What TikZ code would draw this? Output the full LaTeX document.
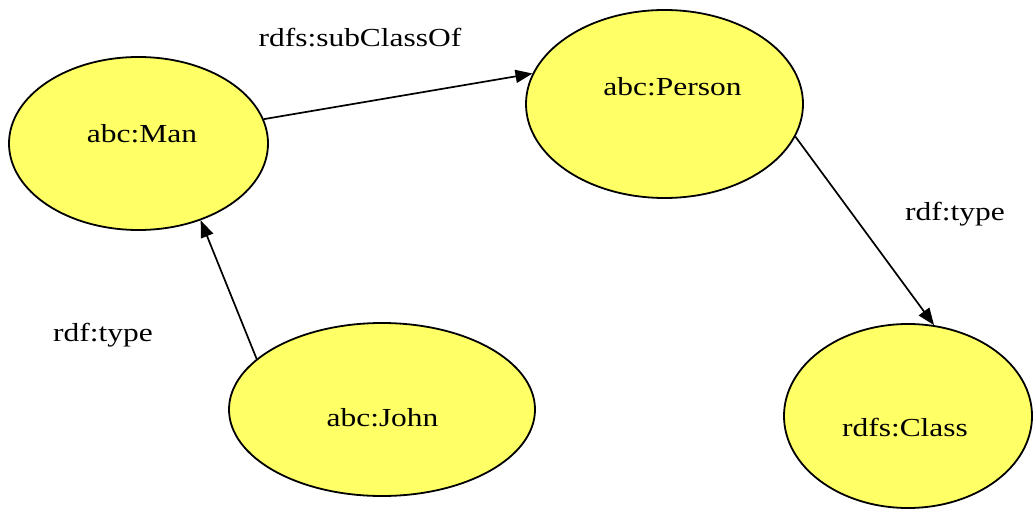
\documentclass[tikz,border=0pt]{standalone}
\usepackage{fontspec}
\setmainfont{Liberation Serif}
\usetikzlibrary{shapes.geometric,arrows.meta}
\definecolor{ryellow}{RGB}{255,255,102}
\newcommand{\wtxt}[1]{\scalebox{1.21}[1]{#1}}
\begin{document}
\begin{tikzpicture}[x=1pt,y=-1pt,
  res/.style={ellipse, draw, line width=1.8pt, fill=ryellow, inner sep=0pt},
  lbl/.style={anchor=base, font=\fontsize{26}{30}\selectfont},
  rel/.style={-{Triangle[length=17pt,width=13pt]}, line width=1.7pt}]

\useasboundingbox (0,0) rectangle (1035,510);

% ресурсы
\foreach \n/\x/\y/\w/\h in {man/138.5/143.5/259/173, person/664.5/104/277/188,
                            john/382/409.5/306/173, class/908/416/248/184}
  \node[res, minimum width=\w pt, minimum height=\h pt] (\n) at (\x,\y) {};

% имена
\foreach \n/\x/\y/\t in {man/142/142.5/abc:Man, person/672.5/96/abc:Person,
                         john/382.5/426.5/abc:John, class/905/436.5/rdfs:Class}
  \node[lbl] (\n-txt) at (\x,\y) {\wtxt{\t}};

% связи
\draw[rel] (man.11) -- (person.167);
\draw[rel] (john.158) -- (man.-51);
\draw[rel] (person.-14) -- (class.74);

% подписи связей
\node[lbl] (sub) at (360,46.5) {\wtxt{rdfs:subClassOf}};
\node[lbl] (type1) at (955,221) {\wtxt{rdf:type}};
\node[lbl] (type2) at (103,341) {\wtxt{rdf:type}};

\end{tikzpicture}
\end{document}
